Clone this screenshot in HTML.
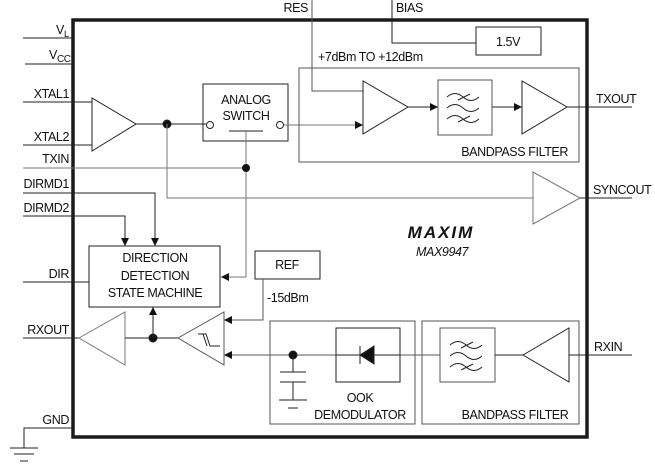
<!DOCTYPE html>
<html><head><meta charset="utf-8"><style>
html,body{margin:0;padding:0;background:#fff;}
svg{display:block;}
text{font-family:"Liberation Sans Narrow","Liberation Sans",sans-serif;font-size:12.5px;letter-spacing:-0.4px;fill:#111;}
</style></head><body>
<svg width="655" height="470" viewBox="0 0 655 470" xmlns="http://www.w3.org/2000/svg">
<defs>
<marker id="a" viewBox="0 0 10 10" refX="10" refY="5" markerWidth="8" markerHeight="8" orient="auto" markerUnits="userSpaceOnUse"><path d="M0,0L10,5L0,10z" fill="#111"/></marker>
</defs>
<g fill="none" stroke="#222" stroke-width="1">
<rect x="73" y="20" width="514" height="417" stroke-width="3.5" stroke="#1a1a1a"/>
<line x1="23" y1="38" x2="73" y2="38"/>
<line x1="25" y1="64" x2="73" y2="64"/>
<line x1="23" y1="102" x2="92" y2="102"/>
<line x1="23" y1="145" x2="92" y2="145"/>
<line x1="23" y1="168" x2="246" y2="168" stroke="#777"/>
<polyline points="23,193 155,193 155,246" marker-end="url(#a)"/>
<polyline points="23,216 125,216 125,246" marker-end="url(#a)"/>
<line x1="23" y1="282" x2="89" y2="282"/>
<line x1="23" y1="338" x2="79" y2="338"/>
<polyline points="73,428 24,428 24,448"/>
<line x1="10" y1="448" x2="38" y2="448"/>
<line x1="14" y1="454" x2="34" y2="454"/>
<line x1="20" y1="461" x2="28" y2="461"/>
<polygon points="92,98 92,151 136,124"/>
<line x1="136" y1="124" x2="206" y2="124"/>
<circle cx="167" cy="124" r="4" fill="#111"/>
<polyline points="167,124 167,198 533,198" stroke="#777"/>
<rect x="203" y="84" width="85" height="57"/>
<circle cx="210" cy="125" r="3.5" fill="#fff"/>
<circle cx="280" cy="125" r="3.5" fill="#fff"/>
<line x1="229" y1="131" x2="263" y2="131"/>
<polyline points="246,131 246,277 221,277" stroke="#777" marker-end="url(#a)"/>
<circle cx="246" cy="168" r="4" fill="#111" stroke="none"/>
<line x1="284" y1="125" x2="363" y2="125" stroke="#777" marker-end="url(#a)"/>
<polyline points="312,0 312,91 363,91" stroke="#555"/>
<polyline points="392,0 392,43 476,43"/>
<rect x="476" y="27" width="65" height="28"/>
<rect x="299" y="68" width="280" height="94" stroke="#555"/>
<polygon points="363,81 363,134 408,107"/>
<line x1="408" y1="107" x2="438" y2="107" marker-end="url(#a)"/>
<rect x="438" y="80" width="54" height="55" stroke="#555"/>
<line x1="492" y1="107" x2="522" y2="107" marker-end="url(#a)"/>
<polygon points="522,81 522,134 567,107"/>
<line x1="567" y1="107" x2="632" y2="107"/>
<polygon points="533,172 533,224 580,198" stroke="#777"/>
<line x1="580" y1="198" x2="632" y2="198"/>
<rect x="89" y="246" width="131" height="61"/>
<rect x="255" y="251" width="65" height="28"/>
<polyline points="263,279 263,320 224,320" stroke="#555" marker-end="url(#a)"/>
<polygon points="79,338 125,312 125,365" stroke="#777"/>
<line x1="125" y1="338" x2="178" y2="338"/>
<circle cx="153" cy="338" r="4" fill="#111"/>
<line x1="153" y1="338" x2="153" y2="307" marker-end="url(#a)"/>
<polygon points="178,338 224,312 224,365" stroke="#555"/>
<polyline points="198,334 206,334 210,346 220,346"/>
<polyline points="203,334 207,346"/>
<line x1="440" y1="355" x2="224" y2="355" stroke="#555" marker-end="url(#a)"/>
<rect x="270" y="321" width="145" height="103" stroke="#555"/>
<circle cx="293" cy="355" r="4" fill="#111"/>
<line x1="293" y1="355" x2="293" y2="372"/>
<line x1="280" y1="372" x2="306" y2="372"/>
<line x1="280" y1="382" x2="306" y2="382"/>
<line x1="293" y1="382" x2="293" y2="400"/>
<line x1="279" y1="400" x2="307" y2="400"/>
<line x1="288" y1="408" x2="298" y2="408"/>
<rect x="336" y="328" width="64" height="54" fill="#fff"/>
<line x1="336" y1="355" x2="400" y2="355"/>
<polygon points="360,355 374,346 374,364" fill="#111"/>
<line x1="360" y1="346" x2="360" y2="364"/>
<rect x="422" y="321" width="157" height="103" stroke="#555"/>
<rect x="440" y="328" width="55" height="54" stroke="#555" fill="#fff"/>
<line x1="495" y1="355" x2="523" y2="355"/>
<polygon points="523,355 569,328 569,382"/>
<line x1="569" y1="355" x2="632" y2="355"/>
</g>
<g fill="none" stroke="#222" stroke-width="1">
<path d="M447,97 q8,-7 16,0 t16,0 M447,108 q8,-7 16,0 t16,0 M447,119 q8,-7 16,0 t16,0 M458,100 l12,-6 M458,122 l12,-6"/>
<path d="M450,345 q8,-7 16,0 t16,0 M450,356 q8,-7 16,0 t16,0 M450,367 q8,-7 16,0 t16,0 M461,348 l12,-6 M461,370 l12,-6"/>
</g>
<text x="56" y="34">V<tspan font-size="9" dy="3">L</tspan></text>
<text x="49" y="59">V<tspan font-size="10" dy="3">CC</tspan></text>
<text x="69" y="98" text-anchor="end">XTAL1</text>
<text x="69" y="141" text-anchor="end">XTAL2</text>
<text x="69" y="163" text-anchor="end">TXIN</text>
<text x="69" y="188" text-anchor="end">DIRMD1</text>
<text x="69" y="212" text-anchor="end">DIRMD2</text>
<text x="69" y="278" text-anchor="end">DIR</text>
<text x="69" y="334" text-anchor="end">RXOUT</text>
<text x="69" y="424" text-anchor="end">GND</text>
<text x="246" y="104" text-anchor="middle">ANALOG</text>
<text x="246" y="120" text-anchor="middle">SWITCH</text>
<text x="308" y="12" text-anchor="end">RES</text>
<text x="396" y="12">BIAS</text>
<text x="508" y="46" text-anchor="middle">1.5V</text>
<text x="318" y="61">+7dBm TO +12dBm</text>
<text x="568" y="156" text-anchor="end">BANDPASS FILTER</text>
<text x="596" y="103">TXOUT</text>
<text x="593" y="194">SYNCOUT</text>
<text x="441" y="238" text-anchor="middle" style="font-size:17px;font-weight:900;font-style:italic;letter-spacing:2px">MAXIM</text>
<text x="416" y="256" font-style="italic">MAX9947</text>
<text x="155" y="262" text-anchor="middle">DIRECTION</text>
<text x="155" y="280" text-anchor="middle">DETECTION</text>
<text x="155" y="297" text-anchor="middle">STATE MACHINE</text>
<text x="287" y="269" text-anchor="middle">REF</text>
<text x="267" y="302">-15dBm</text>
<text x="360" y="402" text-anchor="middle">OOK</text>
<text x="360" y="419" text-anchor="middle">DEMODULATOR</text>
<text x="515" y="419" text-anchor="middle">BANDPASS FILTER</text>
<text x="594" y="351">RXIN</text>
</svg>
</body></html>
